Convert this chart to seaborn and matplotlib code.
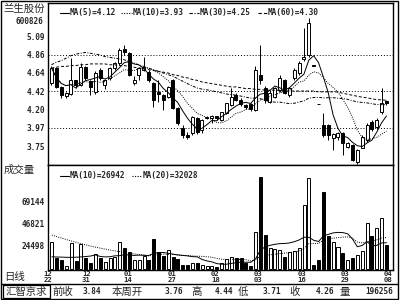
import numpy as np
import pandas as pd
import matplotlib
matplotlib.use("Agg")
import matplotlib.pyplot as plt
import seaborn as sns
from matplotlib.patches import Rectangle

sns.set_theme(style="white")
plt.rcParams['font.family'] = ['DejaVu Sans Mono', 'Noto Sans CJK SC', 'DejaVu Sans']

# ---------------- data ----------------
opens = [4.52, 4.70, 4.47, 4.36, 4.38, 4.55, 4.49, 4.71, 4.54, 4.41,
         4.68, 4.49, 4.58, 4.70, 4.76, 4.93, 4.88, 4.52, 4.62, 4.68,
         4.65, 4.52, 4.41, 4.37, 4.35, 4.55, 4.21, 3.97, 3.88, 3.91,
         4.09, 3.95, 4.09, 4.09, 4.11, 4.07, 4.15, 4.25, 4.37, 4.31,
         4.25, 4.26, 4.19, 4.61, 4.46, 4.29, 4.35, 4.43, 4.55, 4.37,
         4.58, 4.64, 4.81, 4.86, 4.73, 4.26, 4.01, 4.01, 3.85, 3.86,
         3.91, 3.74, 3.76, 3.56, 3.73, 3.82, 4.04, 3.98, 4.16, 4.30]
highs = [4.72, 4.71, 4.48, 4.41, 4.82, 4.56, 4.76, 4.72, 4.55, 4.66,
         4.70, 4.57, 4.71, 4.77, 4.95, 4.98, 4.90, 4.60, 4.71, 4.83,
         4.67, 4.53, 4.55, 4.38, 4.48, 4.57, 4.22, 4.01, 3.92, 4.12,
         4.10, 4.08, 4.12, 4.13, 4.12, 4.17, 4.28, 4.46, 4.40, 4.33,
         4.26, 4.28, 4.72, 4.98, 4.48, 4.43, 4.47, 4.62, 4.57, 4.47,
         4.70, 4.78, 5.19, 5.31, 4.73, 4.26, 4.15, 4.02, 3.91, 3.92,
         3.92, 3.80, 3.77, 3.71, 3.88, 4.03, 4.07, 4.09, 4.46, 4.31]
lows = [4.49, 4.46, 4.33, 4.33, 4.37, 4.46, 4.48, 4.55, 4.37, 4.38,
        4.56, 4.45, 4.56, 4.68, 4.74, 4.86, 4.60, 4.49, 4.55, 4.66,
        4.53, 4.22, 4.29, 4.19, 4.33, 4.20, 4.01, 3.85, 3.84, 3.89,
        3.90, 3.91, 4.08, 4.03, 4.07, 4.05, 4.14, 4.24, 4.30, 4.24,
        4.20, 4.18, 4.18, 4.50, 4.27, 4.27, 4.33, 4.41, 4.38, 4.35,
        4.55, 4.62, 4.79, 4.84, 4.73, 4.26, 3.86, 3.82, 3.70, 3.82,
        3.64, 3.73, 3.57, 3.53, 3.72, 3.80, 3.93, 3.96, 4.14, 4.25]
closes = [4.70, 4.47, 4.37, 4.40, 4.55, 4.49, 4.71, 4.58, 4.47, 4.64,
          4.58, 4.56, 4.70, 4.76, 4.92, 4.89, 4.62, 4.56, 4.70, 4.71,
          4.55, 4.31, 4.38, 4.31, 4.47, 4.21, 4.03, 3.88, 3.86, 4.10,
          3.92, 4.07, 4.10, 4.11, 4.09, 4.16, 4.27, 4.35, 4.31, 4.26,
          4.22, 4.20, 4.68, 4.55, 4.31, 4.40, 4.46, 4.58, 4.40, 4.46,
          4.68, 4.76, 4.83, 5.25, 4.73, 4.26, 3.88, 3.88, 3.90, 3.91,
          3.79, 3.79, 3.58, 3.70, 3.86, 4.01, 3.96, 4.07, 4.27, 4.27]
volumes = [27500, 11300, 9300, 3200, 26500, 8300, 25500, 11300, 6200, 15400,
           11300, 7200, 11300, 12300, 27500, 21500, 17400, 9300, 9300, 13300,
           9300, 30600, 17400, 13300, 19400, 12300, 10300, 4200, 4200, 6200,
           6200, 4200, 3200, 3200, 2200, 6200, 10300, 12300, 11300, 11300,
           6200, 3200, 37700, 93500, 34600, 21500, 20400, 19400, 12300, 17400,
           18400, 21500, 65100, 92500, 4200, 9300, 78300, 33600, 27500, 22500,
           16400, 9300, 11300, 14400, 18400, 46800, 33600, 41700, 51900, 24500]
# moving-average values for the bars whose window
# reaches back before the first visible bar
ma30_head = [4.74, 4.77, 4.79, 4.82, 4.85, 4.87, 4.88, 4.89, 4.88, 4.87,
             4.86, 4.84, 4.83, 4.82, 4.81, 4.80, 4.78, 4.76, 4.74, 4.72,
             4.70, 4.68, 4.66, 4.64, 4.62, 4.60, 4.57, 4.54, 4.51]
ma60_head = [4.70, 4.71, 4.72, 4.72, 4.73, 4.73, 4.74, 4.74, 4.75, 4.75,
             4.75, 4.75, 4.74, 4.74, 4.73, 4.73, 4.72, 4.71, 4.70, 4.69,
             4.68, 4.67, 4.66, 4.65, 4.64, 4.62, 4.61, 4.59, 4.58, 4.56,
             4.55, 4.53, 4.52, 4.51, 4.50, 4.49, 4.48, 4.47, 4.47, 4.46,
             4.45, 4.45, 4.44, 4.44, 4.43, 4.43, 4.43, 4.43, 4.42, 4.42,
             4.42, 4.42, 4.42, 4.42, 4.42, 4.41, 4.41, 4.41, 4.41]
vol_ma10_head = [12500, 12300, 12200, 12000, 12000, 12100, 12400, 12800, 13300]
vol_ma20_head = [34600, 33000, 31500, 30000, 28600, 27200, 25900, 24600, 23400,
                 22300, 21300, 20300, 19400, 18500, 17700, 16900, 16100, 15400,
                 14800]

price_ticks = [5.09, 4.86, 4.64, 4.42, 4.20, 3.97, 3.75]
price_grid = [4.86, 4.42, 3.97]
vol_ticks = [69144, 46821, 24498]
date_labels = ["12\n22", "12\n31", "01\n14", "01\n27", "02\n18",
               "03\n03", "03\n16", "03\n29", "04\n08"]
date_pos = [-0.9, 7.1, 15.6, 24.8, 33.7, 42.5, 51.6, 60.5, 69.3]
ma_windows = [5, 10, 30, 60]
ma_legend = ["MA(5)=4.12", "MA(10)=3.93", "MA(30)=4.25", "MA(60)=4.30"]
vol_windows = [10, 20]
vol_legend = ["MA(10)=26942", "MA(20)=32028"]
stock_name = "兰生股份"
stock_code = "600826"
info_labels = ["前收", "本周开", "高", "低", "收", "量"]
info_values = ["3.84", "3.76", "4.44", "3.71", "4.26", "196256"]

# ---------------- styles ----------------
ma_styles = ['-', (0, (1, 1.3)), (0, (3, 1.5, 1, 1.5)), (0, (3, 2))]
vol_styles = ['-', (0, (1, 1.3))]
CJK = ['Noto Sans CJK SC', 'DejaVu Sans']
FS = 5.6

df = pd.DataFrame({"o": opens, "h": highs, "l": lows, "c": closes, "v": volumes})
df["x"] = np.arange(len(df))
prev = df["c"].shift(1).fillna(df["o"])
df["up"] = (df["c"] > df["o"]) | ((df["c"] == df["o"]) & (df["c"] >= prev))

def moving_average(series, w, head=None):
    ma = series.rolling(w, min_periods=1).mean().to_numpy()
    if head is not None:
        ma[:len(head)] = head
    return ma

price_heads = {30: ma30_head, 60: ma60_head}
vol_heads = {10: vol_ma10_head, 20: vol_ma20_head}

fig = plt.figure(figsize=(4, 3), dpi=100)
fig.patch.set_facecolor('white')

def frac(x0, y0, x1, y1):
    return [x0 / 400, 1 - y1 / 300, (x1 - x0) / 400, (y1 - y0) / 300]

ax_p = fig.add_axes(frac(47.5, 3, 393, 165))
ax_v = fig.add_axes(frac(47.5, 165, 393, 270))

for ax in (ax_p, ax_v):
    ax.set_facecolor('white')
    for s in ax.spines.values():
        s.set_color('black')
        s.set_linewidth(1.0)
    ax.set_xlim(-0.82, 70.34)
    ax.grid(False)

# price panel
ax_p.set_ylim(3.519, 5.492)
for g in price_grid:
    ax_p.axhline(g, color='black', lw=0.7, ls=(0, (1, 2)), zorder=1)

face = np.where(df["up"], 'white', 'black')
ax_p.vlines(df["x"], df["l"], df["h"], color='black', lw=0.7, zorder=2)
body_lo = np.minimum(df["o"], df["c"])
body_h = np.maximum(np.abs(df["c"] - df["o"]), 0.004)
ax_p.bar(df["x"], body_h, bottom=body_lo, width=0.62, color=face,
         edgecolor='black', linewidth=0.7, zorder=3)

for w, st in zip(ma_windows, ma_styles):
    sns.lineplot(x=df["x"], y=moving_average(df["c"], w, price_heads.get(w)),
                 ax=ax_p, color='black', lw=0.7, linestyle=st, zorder=4)

ax_p.set_yticks(price_ticks)
ax_p.set_yticklabels([f"{t:.2f}" for t in price_ticks], fontsize=FS,
                     fontweight='bold')
ax_p.tick_params(axis='y', length=0, pad=2)
ax_p.set_xticks([])
ax_p.set_xlabel("")
ax_p.set_ylabel("")

# volume panel
ax_v.set_ylim(-869, 105674)
ax_v.bar(df["x"], df["v"], width=0.62, color=face, edgecolor='black',
         linewidth=0.7, zorder=3)
for w, st in zip(vol_windows, vol_styles):
    sns.lineplot(x=df["x"], y=moving_average(df["v"], w, vol_heads.get(w)),
                 ax=ax_v, color='black', lw=0.7, linestyle=st, zorder=4)
ax_v.set_yticks(vol_ticks)
ax_v.set_yticklabels([str(t) for t in vol_ticks], fontsize=FS, fontweight='bold')
ax_v.tick_params(axis='y', length=0, pad=2)
ax_v.set_xticks(date_pos)
ax_v.set_xticklabels(date_labels, fontsize=5.2, fontweight='bold',
                     linespacing=0.95)
ax_v.tick_params(axis='x', length=0, pad=1)
ax_v.set_xlabel("")
ax_v.set_ylabel("")

# overlay for frame, legends and texts (pixel coordinates)
ov = fig.add_axes([0, 0, 1, 1])
ov.set_xlim(0, 400)
ov.set_ylim(300, 0)
ov.axis('off')
ov.patch.set_alpha(0)

ov.add_patch(Rectangle((0.5, 0.5), 397, 298.5, fill=False, ec='black', lw=1))
ov.plot([0.5, 397.5], [283.5, 283.5], color='black', lw=1)
ov.add_patch(Rectangle((3, 285), 47, 13, fill=False, ec='black', lw=0.9))

# price legend
leg_x = [(60, 69, 70), (121, 132, 133), (189, 199, 200), (258, 267, 268)]
for (a, b, t), txt, st in zip(leg_x, ma_legend, ma_styles):
    ov.plot([a, b], [12.5, 12.5], color='black', lw=0.8, ls=st)
    ov.text(t, 12.5, txt, fontsize=FS, fontweight='bold', va='center', ha='left')

# volume legend
vleg_x = [(60, 69, 70), (132, 142, 143)]
for (a, b, t), txt, st in zip(vleg_x, vol_legend, vol_styles):
    ov.plot([a, b], [175.5, 175.5], color='black', lw=0.8, ls=st)
    ov.text(t, 175.5, txt, fontsize=FS, fontweight='bold', va='center', ha='left')

# left column texts
ov.text(3, 9, stock_name, fontsize=7.5, family=CJK, va='center', ha='left')
ov.text(43, 22, stock_code, fontsize=FS, fontweight='bold', va='center', ha='right')
ov.text(4, 170, "成交量", fontsize=7.5, family=CJK, va='center', ha='left')
ov.text(4, 277, "日线", fontsize=7.5, family=CJK, va='center', ha='left')

# info bar
ov.text(26.5, 291.5, "汇智京求", fontsize=7.5, family=CJK, va='center', ha='center')
lab_x = [52, 112, 191, 238, 289, 340]
val_x = [101, 183, 233, 281, 334, 393]
for lx, lt in zip(lab_x, info_labels):
    ov.text(lx, 291.5, lt, fontsize=7.5, family=CJK, va='center', ha='left')
for vx, vt in zip(val_x, info_values):
    ov.text(vx, 291.5, vt, fontsize=FS, fontweight='bold', va='center', ha='right')

fig.savefig("out.png", dpi=100, facecolor='white')
